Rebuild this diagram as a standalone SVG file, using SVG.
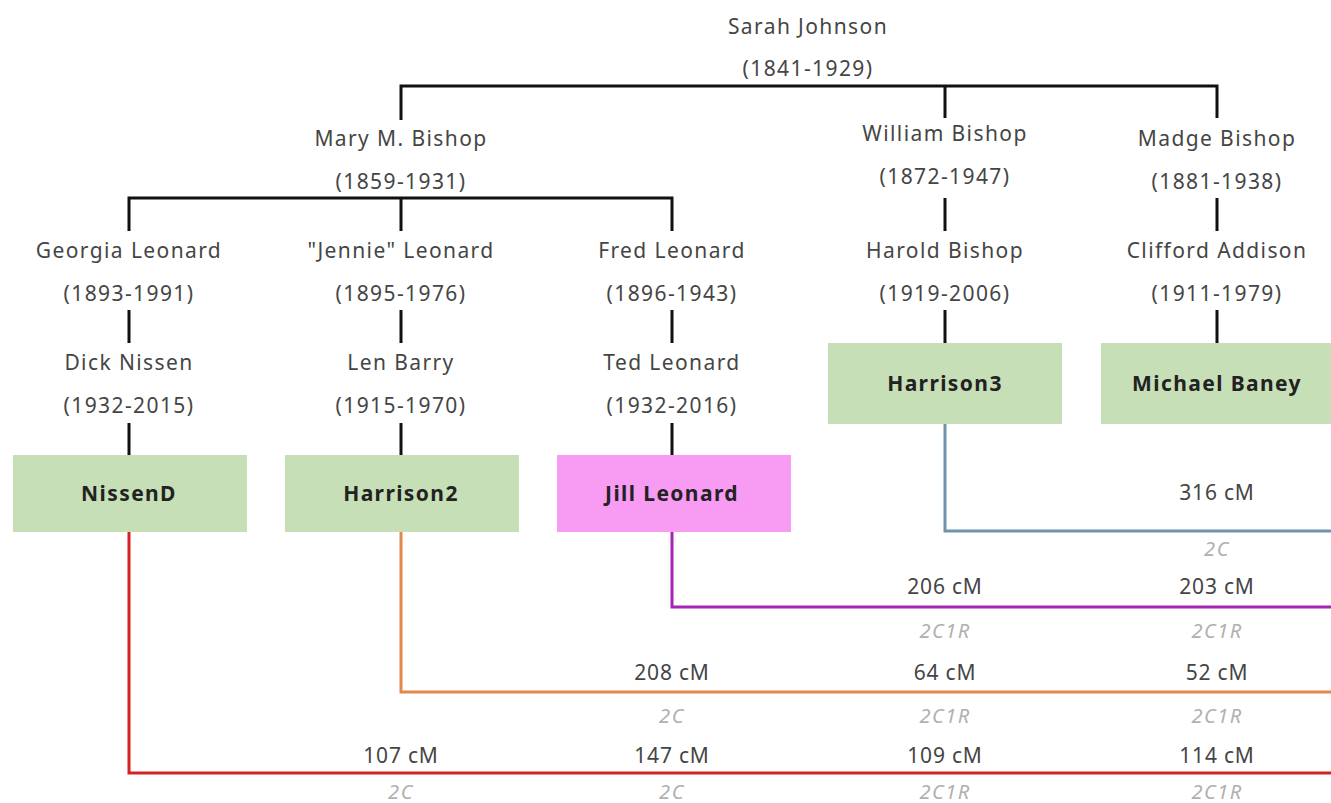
<svg xmlns="http://www.w3.org/2000/svg" width="1331" height="803" viewBox="0 0 1331 803">
<style>
text{font-family:"Noto Sans","DejaVu Sans",sans-serif;text-anchor:middle;dominant-baseline:central}
.n{font-size:21px;letter-spacing:1.4px;fill:#454545}
.b{font-size:21px;letter-spacing:1.4px;font-weight:bold;fill:#222}
.cm{font-size:21px;letter-spacing:0.8px;fill:#454545}
.r{font-size:20px;letter-spacing:1.5px;font-style:italic;fill:#b0b0b0}
.k{stroke:#111;stroke-width:3;fill:none}
.g{fill:#c6dfb6}
.p{fill:#f79bf3}
</style>
<rect width="1331" height="803" fill="#fff"/>
<g id="connectors">
<path class="k" d="M401 120V86H1217V118M945 86V118"/>
<path class="k" d="M129 231V198H672V231M401 198V231"/>
<path class="k" d="M945 198V231M1217 198V231"/>
<path class="k" d="M129 310V343M401 310V343M672 310V343M945 310V343M1217 310V343"/>
<path class="k" d="M129 423V456M401 423V456M672 423V456"/>
<path d="M945 424V531H1331" stroke="#6f93ad" stroke-width="3" fill="none"/>
<path d="M672 532V607H1331" stroke="#a424b4" stroke-width="3" fill="none"/>
<path d="M401 532V692H1331" stroke="#e2894a" stroke-width="3" fill="none"/>
<path d="M129 532V773H1331" stroke="#d42121" stroke-width="3" fill="none"/>
</g>
<g id="sarah"><text class="n" x="808" y="26">Sarah Johnson</text><text class="n" x="808" y="68">(1841-1929)</text></g>
<g id="mary"><text class="n" x="401" y="138">Mary M. Bishop</text><text class="n" x="401" y="181">(1859-1931)</text></g>
<g id="william"><text class="n" x="945" y="133">William Bishop</text><text class="n" x="945" y="176">(1872-1947)</text></g>
<g id="madge"><text class="n" x="1217" y="138">Madge Bishop</text><text class="n" x="1217" y="181">(1881-1938)</text></g>
<g id="georgia"><text class="n" x="129" y="250">Georgia Leonard</text><text class="n" x="129" y="293">(1893-1991)</text></g>
<g id="jennie"><text class="n" x="401" y="250">"Jennie" Leonard</text><text class="n" x="401" y="293">(1895-1976)</text></g>
<g id="fred"><text class="n" x="672" y="250">Fred Leonard</text><text class="n" x="672" y="293">(1896-1943)</text></g>
<g id="harold"><text class="n" x="945" y="250">Harold Bishop</text><text class="n" x="945" y="293">(1919-2006)</text></g>
<g id="clifford"><text class="n" x="1217" y="250">Clifford Addison</text><text class="n" x="1217" y="293">(1911-1979)</text></g>
<g id="dick"><text class="n" x="129" y="362">Dick Nissen</text><text class="n" x="129" y="405">(1932-2015)</text></g>
<g id="len"><text class="n" x="401" y="362">Len Barry</text><text class="n" x="401" y="405">(1915-1970)</text></g>
<g id="ted"><text class="n" x="672" y="362">Ted Leonard</text><text class="n" x="672" y="405">(1932-2016)</text></g>
<g id="harrison3"><rect class="g" x="828" y="343" width="234" height="81"/><text class="b" x="945" y="383">Harrison3</text></g>
<g id="baney"><rect class="g" x="1101" y="343" width="234" height="81"/><text class="b" x="1217" y="383">Michael Baney</text></g>
<g id="nissend"><rect class="g" x="13" y="455" width="234" height="77"/><text class="b" x="129" y="493">NissenD</text></g>
<g id="harrison2"><rect class="g" x="285" y="455" width="234" height="77"/><text class="b" x="401" y="493">Harrison2</text></g>
<g id="jill"><rect class="p" x="557" y="455" width="234" height="77"/><text class="b" x="672" y="493">Jill Leonard</text></g>
<g id="labels">
<text class="cm" x="1217" y="492">316 cM</text><text class="r" x="1217" y="548">2C</text>
<text class="cm" x="945" y="586">206 cM</text><text class="cm" x="1217" y="586">203 cM</text>
<text class="r" x="945" y="630">2C1R</text><text class="r" x="1217" y="630">2C1R</text>
<text class="cm" x="672" y="672">208 cM</text><text class="cm" x="945" y="672">64 cM</text><text class="cm" x="1217" y="672">52 cM</text>
<text class="r" x="672" y="715">2C</text><text class="r" x="945" y="715">2C1R</text><text class="r" x="1217" y="715">2C1R</text>
<text class="cm" x="401" y="755">107 cM</text><text class="cm" x="672" y="755">147 cM</text><text class="cm" x="945" y="755">109 cM</text><text class="cm" x="1217" y="755">114 cM</text>
<text class="r" x="401" y="791">2C</text><text class="r" x="672" y="791">2C</text><text class="r" x="945" y="791">2C1R</text><text class="r" x="1217" y="791">2C1R</text>
</g>
</svg>
